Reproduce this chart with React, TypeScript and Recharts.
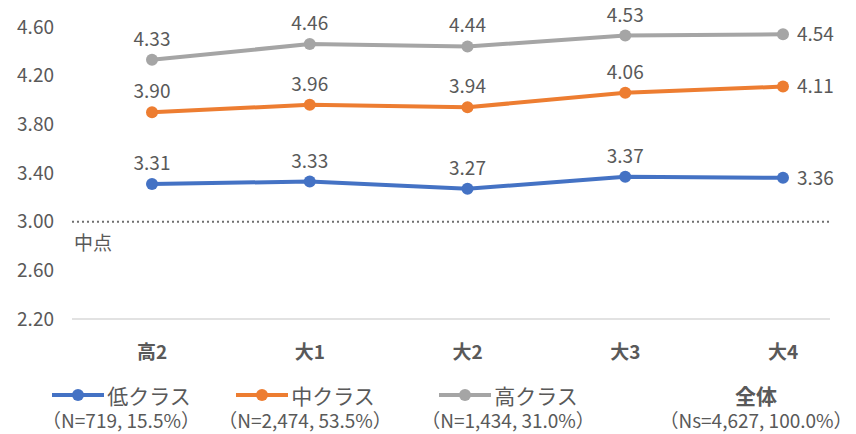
import { LineChart, Line, XAxis, YAxis, ReferenceLine, LabelList, Legend } from 'recharts';

const grades = ['高2', '大1', '大2', '大3', '大4'];
const lowClass = [3.31, 3.33, 3.27, 3.37, 3.36];
const midClass = [3.9, 3.96, 3.94, 4.06, 4.11];
const highClass = [4.33, 4.46, 4.44, 4.53, 4.54];
const yTicks = [2.2, 2.6, 3.0, 3.4, 3.8, 4.2, 4.6];

const legendItems = [
    { name: '低クラス', note: '（N=719, 15.5%）', color: '#4472C4', center: 121 },
    { name: '中クラス', note: '（N=2,474, 53.5%）', color: '#ED7D31', center: 305 },
    { name: '高クラス', note: '（N=1,434, 31.0%）', color: '#A5A5A5', center: 508 },
    { name: '全体', note: '（Ns=4,627, 100.0%）', color: null, center: 756 },
];

const data = grades.map((g, i) => ({
    grade: g,
    low: lowClass[i],
    mid: midClass[i],
    high: highClass[i],
}));

const FONT = '"Noto Sans CJK JP", "Noto Sans", sans-serif';
const TEXT = '#595959';

// value labels sit above each point, except the last one which goes to the right
const ValueLabel = (props: any) => {
    const { x, y, value, index } = props;
    const text = Number(value).toFixed(2);
    if (index === grades.length - 1) {
        return (
            <text x={x + 14} y={y} dy="0.35em" fontSize={19} fill={TEXT} fontFamily={FONT}>
                {text}
            </text>
        );
    }
    return (
        <text x={x} y={Math.max(y - 14, 22)} textAnchor="middle" fontSize={19} fill={TEXT} fontFamily={FONT}>
            {text}
        </text>
    );
};

const MidpointLabel = (props: any) => {
    const { viewBox } = props;
    return (
        <text x={viewBox.x + 2} y={viewBox.y + 28} fontSize={19} fill={TEXT} fontFamily={FONT}>
            中点
        </text>
    );
};

const LegendBlock = () => (
    <div style={{ position: 'relative', width: 856, height: 60, fontFamily: FONT, color: TEXT }}>
        {legendItems.map((item) => (
            <div
                key={item.name}
                style={{
                    position: 'absolute',
                    left: item.center - 110,
                    width: 220,
                    top: 8,
                    textAlign: 'center',
                }}
            >
                <div style={{ display: 'flex', justifyContent: 'center', alignItems: 'center', height: 26 }}>
                    {item.color && (
                        <svg width={54} height={14} style={{ marginRight: 2 }}>
                            <line x1={1} y1={7} x2={53} y2={7} stroke={item.color} strokeWidth={4} />
                            <circle cx={27} cy={7} r={6} fill={item.color} />
                        </svg>
                    )}
                    <span style={{ display: 'block', fontSize: 21, lineHeight: '26px', height: 26, fontWeight: item.color ? 400 : 700 }}>
                        {item.name}
                    </span>
                </div>
                <span style={{ display: 'block', fontSize: 19, height: 24, lineHeight: '24px', whiteSpace: 'nowrap' }}>{item.note}</span>
            </div>
        ))}
    </div>
);

const App = () => {
    return (
        <div style={{ position: 'absolute', left: 0, top: 0, width: 856, height: 434, background: '#fff' }}>
            <LineChart width={856} height={434} data={data} margin={{ top: 27, right: 26, bottom: 0, left: 0 }}>
                <XAxis
                    dataKey="grade"
                    height={55}
                    padding={{ left: 80, right: 47 }}
                    axisLine={{ stroke: '#D9D9D9', strokeWidth: 1.5 }}
                    tickLine={false}
                    tickSize={0}
                    tickMargin={27}
                    tick={{ fontSize: 19, fill: TEXT, fontWeight: 700, fontFamily: FONT }}
                />
                <YAxis
                    width={72}
                    domain={[2.2, 4.6]}
                    ticks={yTicks}
                    tickFormatter={(v: number) => v.toFixed(2)}
                    axisLine={false}
                    tickLine={false}
                    tickSize={0}
                    tickMargin={18}
                    tick={{ fontSize: 19, fill: TEXT, fontFamily: FONT }}
                />
                <ReferenceLine
                    y={3.0}
                    stroke="#6F6F6F"
                    strokeWidth={2}
                    strokeDasharray="2 3"
                    label={<MidpointLabel />}
                />
                <Line dataKey="low" stroke="#4472C4" strokeWidth={4} dot={{ r: 6, fill: '#4472C4', stroke: '#4472C4', strokeWidth: 0 }} isAnimationActive={false}>
                    <LabelList dataKey="low" content={<ValueLabel />} />
                </Line>
                <Line dataKey="mid" stroke="#ED7D31" strokeWidth={4} dot={{ r: 6, fill: '#ED7D31', stroke: '#ED7D31', strokeWidth: 0 }} isAnimationActive={false}>
                    <LabelList dataKey="mid" content={<ValueLabel />} />
                </Line>
                <Line dataKey="high" stroke="#A5A5A5" strokeWidth={4} dot={{ r: 6, fill: '#A5A5A5', stroke: '#A5A5A5', strokeWidth: 0 }} isAnimationActive={false}>
                    <LabelList dataKey="high" content={<ValueLabel />} />
                </Line>
                <Legend
                    verticalAlign="bottom"
                    content={<LegendBlock />}
                    wrapperStyle={{ left: 0, width: 856, height: 60 }}
                />
            </LineChart>
        </div>
    );
};

export default App;
